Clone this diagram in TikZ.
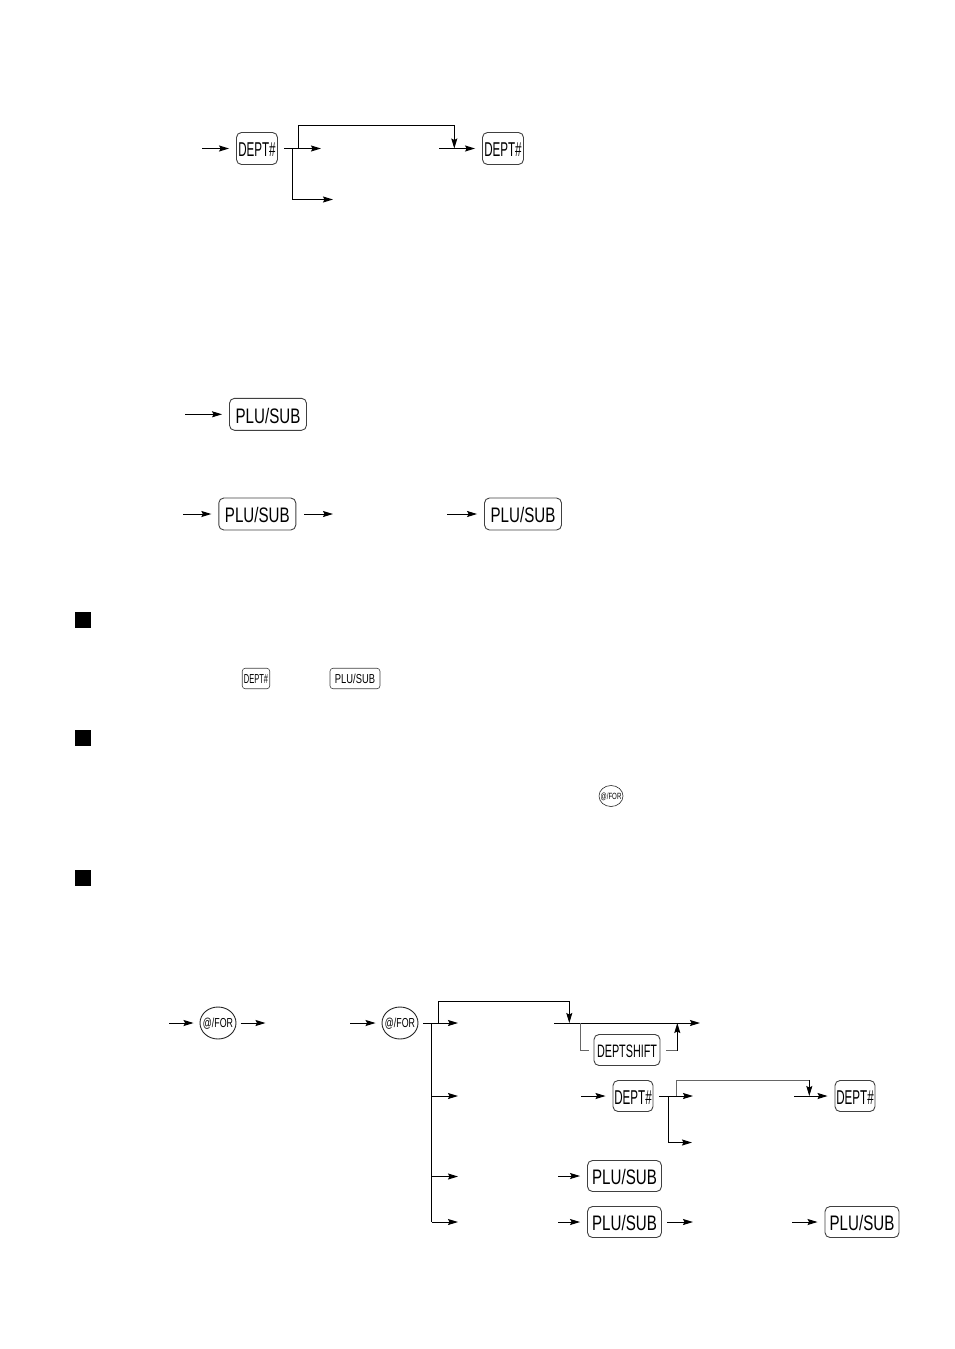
\documentclass[tikz,border=0pt]{standalone}
\usepackage{fontspec}
\usepackage{graphicx}
\setmainfont{Liberation Sans}
\usetikzlibrary{arrows.meta,shapes.geometric}
\newcommand{\keytext}[3]{\makebox[0pt][c]{\smash{\fontsize{#1}{#1}\selectfont\raisebox{-0.42em}{\scalebox{#2}[1]{#3}}}}}
\newcommand{\rndtext}[3]{\makebox[0pt][c]{\smash{\fontsize{#1}{#1}\selectfont\raisebox{-0.38em}{\scalebox{#2}[1]{#3}}}}}
\tikzset{
  keybox/.style={draw=black!75,line width=0.9pt,rounded corners=5pt,inner sep=0pt,text=black},
  keyround/.style={draw=black!85,line width=0.9pt,ellipse,inner sep=0pt,text=black},
  conn/.style={line width=1pt,-{Stealth[length=10pt,width=6pt,inset=1.5pt]}},
  plain/.style={line width=1pt},
  soft/.style={line width=1pt,draw=black!60},
  bullet/.style={fill=black,draw=none,inner sep=0pt,minimum width=16pt,minimum height=16pt},
  deptkey/.style={keybox,minimum width=41pt,minimum height=32pt},
  plukey/.style={keybox,minimum width=77pt,minimum height=32pt},
  forkey/.style={keyround,minimum width=36pt,minimum height=32pt},
  to key/.style={shorten >=7pt}
}
\newcommand{\deptlabel}{\keytext{20}{0.58}{DEPT\#}}
\newcommand{\plulabel}{\keytext{21}{0.72}{PLU/SUB}}
\newcommand{\forlabel}{\rndtext{13}{0.68}{@/FOR}}
\begin{document}
\begin{tikzpicture}[x=1pt,y=-1pt]
\useasboundingbox (0,0) rectangle (954,1349);
% --- group 1
\node[deptkey] (d1) at (257,148.5) {\deptlabel};
\node[deptkey] (d2) at (503,148.5) {\deptlabel};
\coordinate (d1in) at (202,148.5);
\coordinate (d1out) at (284,148.5);
\coordinate (d1a) at (321,148.5);
\coordinate (d1b) at (439,148.5);
\coordinate (d1c) at (333,199.5);
\draw[conn,to key] (d1in) -- (d1.west);
\draw[conn] (d1out) -- (d1a);
\draw[conn,to key] (d1b) -- (d2.west);
\draw[conn] (298.3,148.5) |- (454.3,125.5) -- (454.3,148.5);
\draw[conn] (292.3,148.5) |- (d1c);
% --- group 2
\node[plukey] (p1) at (268,414.3) {\plulabel};
\coordinate (p1in) at (185,414.3);
\draw[conn,to key] (p1in) -- (p1.west);
% --- group 3
\node[plukey] (p2) at (257.3,514) {\plulabel};
\node[plukey] (p3) at (523,514) {\plulabel};
\coordinate (p2in) at (183,514);
\coordinate (p2a) at (304,514);
\coordinate (p2b) at (333,514);
\coordinate (p3in) at (447,514);
\draw[conn,to key] (p2in) -- (p2.west);
\draw[conn] (p2a) -- (p2b);
\draw[conn,to key] (p3in) -- (p3.west);
% --- bullets
\node[bullet] (b1) at (83,620) {};
\node[bullet] (b2) at (83,738) {};
\node[bullet] (b3) at (83,878) {};
% --- inline keys
\node[keybox,rounded corners=3pt,line width=0.6pt,minimum width=27.5pt,minimum height=20.5pt] (sd) at (256,678.5) {\keytext{13}{0.58}{DEPT\#}};
\node[keybox,rounded corners=3pt,line width=0.6pt,minimum width=50pt,minimum height=20.5pt] (sp) at (355,678.5) {\keytext{13}{0.72}{PLU/SUB}};
\node[keyround,line width=0.6pt,minimum width=24pt,minimum height=21pt] (sf) at (611,796) {\rndtext{9}{0.68}{@/FOR}};
% --- bottom diagram
\node[forkey] (f1) at (218,1023) {\forlabel};
\node[forkey] (f2) at (400,1023) {\forlabel};
\coordinate (f1in) at (169,1023);
\coordinate (f1a) at (240.5,1023);
\coordinate (f1b) at (265.5,1023);
\coordinate (f2in) at (350,1023);
\coordinate (f2a) at (423,1023);
\coordinate (f2b) at (458,1023);
\draw[conn,shorten >=6pt] (f1in) -- (f1.west);
\draw[conn] (f1a) -- (f1b);
\draw[conn,shorten >=6pt] (f2in) -- (f2.west);
\draw[conn] (f2a) -- (f2b);
\draw[conn] (438.3,1023) |- (569.3,1001.5) -- (569.3,1023);
\coordinate (m1) at (431.7,1023);
\coordinate (m2) at (458,1096);
\coordinate (m3) at (458,1176.5);
\coordinate (m4) at (458,1222);
\draw[plain] (m1) -- (m1 |- m4);
\draw[conn] (m1 |- m2) -- (m2);
\draw[conn] (m1 |- m3) -- (m3);
\draw[conn] (m1 |- m4) -- (m4);
% top row
\coordinate (t1) at (554,1023);
\coordinate (t2) at (700,1023);
\draw[conn] (t1) -- (t2);
\node[keybox,minimum width=66pt,minimum height=31pt] (ds) at (627,1050) {\keytext{18}{0.6}{DEPTSHIFT}};
\coordinate (s1) at (580,1023);
\coordinate (s2) at (677.3,1023);
\coordinate (s3) at (589,1050.5);
\coordinate (s4) at (666,1050.5);
\draw[soft] (s1) |- (s3);
\draw[soft] (s4) -- (s4 -| s2);
\draw[conn] (s4 -| s2) -- (s2);
% dept row
\node[keybox,minimum width=40pt,minimum height=31pt] (d3) at (633,1096) {\deptlabel};
\node[keybox,minimum width=40pt,minimum height=31pt] (d4) at (855,1096) {\deptlabel};
\coordinate (d3in) at (581,1096);
\coordinate (d3a) at (659,1096);
\coordinate (d3b) at (693,1096);
\coordinate (d4in) at (794,1096);
\coordinate (d3c) at (692,1142.5);
\draw[conn,to key] (d3in) -- (d3.west);
\draw[conn] (d3a) -- (d3b);
\draw[conn,to key] (d4in) -- (d4.west);
\draw[soft] (676,1096) |- (809.3,1080);
\draw[conn] (809.3,1080) -- (809.3,1096);
\draw[conn] (668.3,1096) |- (d3c);
% plu rows
\node[keybox,minimum width=74pt,minimum height=31pt] (p4) at (624.5,1176) {\plulabel};
\node[keybox,minimum width=74pt,minimum height=31pt] (p5) at (624.5,1222) {\plulabel};
\node[keybox,minimum width=74pt,minimum height=31pt] (p6) at (862,1222) {\plulabel};
\coordinate (p4in) at (558,1176);
\coordinate (p5in) at (558,1222);
\coordinate (p5a) at (667,1222);
\coordinate (p5b) at (693,1222);
\coordinate (p6in) at (792,1222);
\draw[conn,to key] (p4in) -- (p4.west);
\draw[conn,to key] (p5in) -- (p5.west);
\draw[conn] (p5a) -- (p5b);
\draw[conn,to key] (p6in) -- (p6.west);
\end{tikzpicture}
\end{document}
